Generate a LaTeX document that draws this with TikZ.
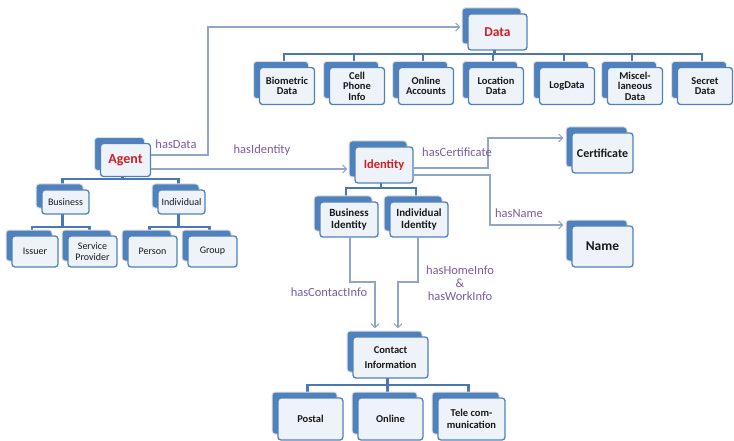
\documentclass[tikz,border=0pt]{standalone}
\usepackage{fontspec}
\setmainfont{Carlito}
\usetikzlibrary{shadows,backgrounds,arrows.meta}
\definecolor{bblue}{HTML}{4F81BD}
\definecolor{bline}{HTML}{4A78B5}
\definecolor{bfill}{HTML}{EEF3FA}
\definecolor{conn}{HTML}{8FA6C8}
\definecolor{lbl}{HTML}{7B5AA6}
\definecolor{kred}{HTML}{D21F26}
\tikzset{
  box/.style={draw=bblue, line width=1.3pt, fill=bfill, rounded corners=3pt,
    inner sep=1pt, align=center, text=black!90,
    font=\bfseries\fontsize{10.5}{10.5}\selectfont,
    general shadow={shadow xshift=-6pt, shadow yshift=6pt, fill=bblue,
      draw=black!12, line width=1pt}},
  small/.style={font=\fontsize{10}{11}\selectfont},
  redt/.style={text=kred, font=\bfseries\fontsize{13}{15}\selectfont},
  tree/.style={draw=bline, line width=2.2pt},
  conn/.style={draw=conn, line width=1.1pt},
  arr/.style={conn, -{Straight Barb[length=4pt,width=8pt]}},
  lab/.style={text=lbl, font=\fontsize{12.5}{14}\selectfont, inner sep=0pt, align=center},
}
\begin{document}
\begin{tikzpicture}[x=1pt,y=-1pt]
\useasboundingbox (0,0) rectangle (734,441);
% Data branch
\node[box,redt,font=\bfseries\fontsize{13.5}{15}\selectfont,minimum width=59pt,minimum height=36pt] (data) at (497.5,32) {Data};
\foreach \n/\x/\t in {bio/287/{Biometric\\Data}, cell/357/{Cell\\Phone\\Info},
  onl/426/{Online\\Accounts}, loc/496/{Location\\Data}, logd/567/{LogData},
  misc/635/{Miscel-\\laneous\\Data}, sec/705/{Secret\\Data}}
  \node[box,minimum width=55pt,minimum height=37pt] (\n) at (\x,86) {\t};
% Agent branch
\node[box,redt,font=\bfseries\fontsize{14}{15}\selectfont,minimum width=50pt,minimum height=33pt] (agent) at (125.5,160) {Agent};
\node[box,small,minimum width=47pt,minimum height=24pt] (busi) at (65.5,202) {Business};
\node[box,small,minimum width=47pt,minimum height=24pt] (indi) at (181.5,202) {Individual};
\node[box,small,minimum width=46pt,minimum height=31pt] (issuer) at (35,251.5) {Issuer};
\node[box,small,minimum width=49pt,minimum height=31pt] (service) at (92.5,251.5) {Service\\Provider};
\node[box,small,minimum width=49pt,minimum height=31pt] (person) at (152.5,251.5) {Person};
\node[box,small,minimum width=49pt,minimum height=31pt] (group) at (212.5,251.5) {Group};
% Identity branch
\node[box,redt,font=\bfseries\fontsize{12.5}{14}\selectfont,minimum width=58pt,minimum height=36pt] (identity) at (384,165) {Identity};
\node[box,font=\bfseries\fontsize{11}{12.5}\selectfont,minimum width=58pt,minimum height=35pt] (bident) at (349,219.5) {Business\\Identity};
\node[box,font=\bfseries\fontsize{11}{12.5}\selectfont,minimum width=58pt,minimum height=35pt] (iident) at (419,219.5) {Individual\\Identity};
\node[box,font=\bfseries\fontsize{12}{14}\selectfont,minimum width=61pt,minimum height=40pt] (cert) at (602.5,153) {Certificate};
\node[box,font=\bfseries\fontsize{13.5}{15}\selectfont,minimum width=61pt,minimum height=41pt] (name) at (602.5,246.5) {Name};
% Contact branch
\node[box,font=\bfseries\fontsize{10.5}{15}\selectfont,minimum width=75pt,minimum height=41pt] (contact) at (390.5,357.5) {Contact\\Information};
\node[box,minimum width=65pt,minimum height=42pt] (postal) at (310.5,419) {Postal};
\node[box,minimum width=65pt,minimum height=42pt] (online) at (390.5,419) {Online};
\node[box,font=\bfseries\fontsize{10.5}{12}\selectfont,minimum width=67pt,minimum height=42pt] (tele) at (471.5,419) {Tele com-\\munication};
% stub coordinates
\foreach \n in {data,bio,cell,onl,loc,logd,misc,sec,agent,busi,indi,issuer,service,person,group,identity,bident,iident,contact,postal,online,tele}
  \coordinate (\n-s) at ([xshift=-3pt]\n.center);
\coordinate (dbus) at (0,54);
\coordinate (abus) at (0,179);
\coordinate (bbus) at (0,227);
\coordinate (ibus) at (0,188);
\coordinate (cbus) at (0,385);
\begin{pgfonlayer}{background}
\foreach \c in {bio,cell,onl,loc,logd,misc,sec}
  \draw[tree] (data-s) -- (data-s |- dbus) -| (\c-s);
\foreach \c in {busi,indi}
  \draw[tree] (agent-s) -- (agent-s |- abus) -| (\c-s);
\foreach \c in {issuer,service}
  \draw[tree] (busi-s) -- (busi-s |- bbus) -| (\c-s);
\foreach \c in {person,group}
  \draw[tree] (indi-s) -- (indi-s |- bbus) -| (\c-s);
\foreach \c in {bident,iident}
  \draw[tree] (identity-s) -- (identity-s |- ibus) -| (\c-s);
\foreach \c in {postal,online,tele}
  \draw[tree] (contact-s) -- (contact-s |- cbus) -| (\c-s);
\end{pgfonlayer}
% connectors
\coordinate (hd) at (208,27);
\coordinate (hc) at (488,138);
\coordinate (hn) at (490,225);
\coordinate (hci) at (375,282);
\coordinate (hhi) at (398,282);
\draw[arr] ([yshift=5pt]agent.east) -| (hd) -- ([xshift=-7pt,yshift=5pt]data.west);
\draw[arr] ([yshift=-9pt]agent.east) -- ([xshift=-7pt,yshift=-4pt]identity.west);
\draw[arr] ([yshift=-3pt]identity.east) -| (hc) -- ([xshift=-8pt,yshift=15pt]cert.west);
\draw[arr] ([yshift=-10pt]identity.east) -| (hn) -- ([xshift=-8pt,yshift=21.5pt]name.west);
\draw[arr] ([xshift=1pt]bident.south) |- (hci) -- ([xshift=-15.5pt,yshift=8pt]contact.north);
\draw[arr] ([xshift=-1pt]iident.south) |- (hhi) -- ([xshift=7.5pt,yshift=8pt]contact.north);
% labels
\node[lab] (l1) at (176,144) {hasData};
\node[lab] (l2) at (262,150) {hasIdentity};
\node[lab] (l3) at (457,152) {hasCertificate};
\node[lab] (l4) at (519,213) {hasName};
\node[lab] (l5) at (329,292) {hasContactInfo};
\node[lab] (l6) at (460,283) {hasHomeInfo\\[-1pt]\&\\[-1pt]hasWorkInfo};
\end{tikzpicture}
\end{document}
